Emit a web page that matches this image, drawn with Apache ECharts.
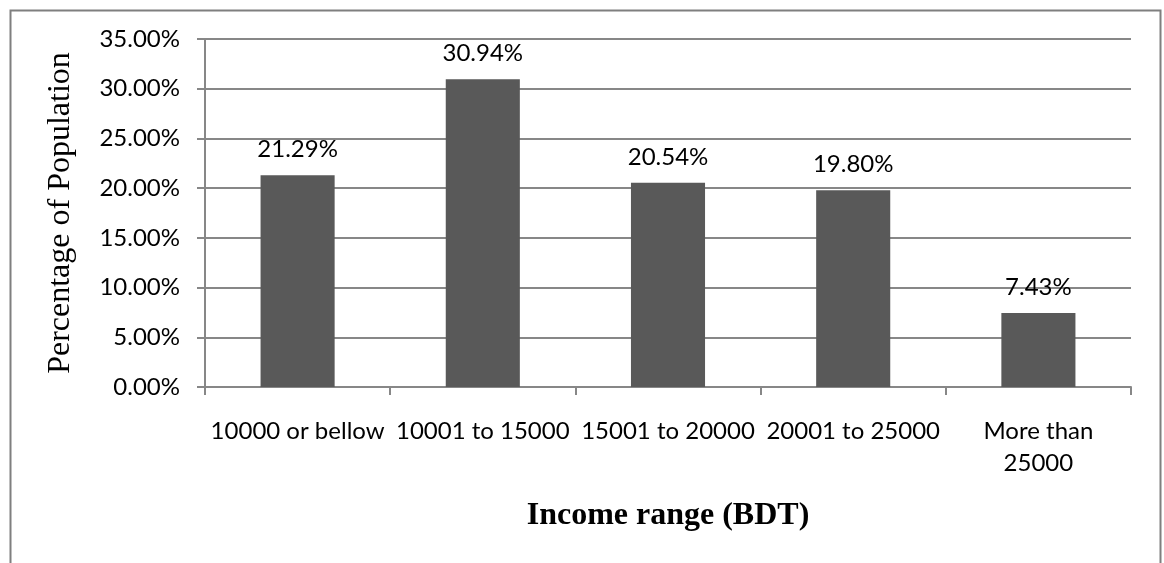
<!DOCTYPE html>
<html>
<head>
<meta charset="utf-8">
<script src="https://cdn.jsdelivr.net/npm/echarts@6/dist/echarts.min.js"></script>
<style>
  html, body { margin: 0; padding: 0; background: #ffffff; }
  #chart { width: 1164px; height: 563px; }
</style>
</head>
<body>
<div id="chart"></div>
<script>
// Income ranges (BDT) and the share of population in each
const categories = ['10000 or bellow', '10001 to 15000', '15001 to 20000', '20001 to 25000', 'More than\n25000'];
const shares = [21.29, 30.94, 20.54, 19.80, 7.43];

const yAxisTitle = 'Percentage of Population';
const xAxisTitle = 'Income range (BDT)';

const labelFont = 'Lato, "Open Sans", sans-serif';
const titleFont = '"Liberation Serif", "Times New Roman", serif';
const lineGray = '#878787';

const chart = echarts.init(document.getElementById('chart'), null, { renderer: 'canvas' });

chart.setOption({
  animation: false,
  backgroundColor: '#ffffff',
  graphic: [{
    type: 'rect',
    shape: { x: 10.5, y: 10.5, width: 1150, height: 700 },
    style: { fill: 'none', stroke: '#7f7f7f', lineWidth: 2 },
    silent: true
  }],
  grid: { left: 205, right: 33, top: 39, bottom: 176 },
  xAxis: {
    type: 'category',
    data: categories,
    name: xAxisTitle,
    nameLocation: 'middle',
    nameGap: 113,
    nameTextStyle: { fontFamily: titleFont, fontSize: 32, fontWeight: 'bold', color: '#000' },
    axisLine: { lineStyle: { color: lineGray, width: 2 } },
    axisTick: { show: true, alignWithLabel: false, length: 8, lineStyle: { color: lineGray, width: 2 } },
    axisLabel: {
      interval: 0, margin: 28, color: '#000',
      fontFamily: labelFont, fontSize: 24, lineHeight: 32
    },
    splitLine: { show: false }
  },
  yAxis: {
    type: 'value',
    min: 0, max: 35, interval: 5,
    name: yAxisTitle,
    nameLocation: 'middle',
    nameGap: 128,
    nameRotate: 90,
    nameTextStyle: { fontFamily: titleFont, fontSize: 32, color: '#000' },
    axisLine: { show: true, lineStyle: { color: lineGray, width: 2 } },
    axisTick: { show: true, length: 8, lineStyle: { color: lineGray, width: 2 } },
    axisLabel: {
      margin: 25, color: '#000',
      fontFamily: labelFont, fontSize: 24,
      formatter: v => v.toFixed(2) + '%'
    },
    splitLine: { show: true, lineStyle: { color: lineGray, width: 2 } }
  },
  series: [{
    type: 'bar',
    data: shares,
    barWidth: '40%',
    itemStyle: { color: '#595959' },
    label: {
      show: true, position: 'top', distance: 14,
      color: '#000', fontFamily: labelFont, fontSize: 24,
      formatter: p => p.value.toFixed(2) + '%'
    }
  }]
});
</script>
</body>
</html>
